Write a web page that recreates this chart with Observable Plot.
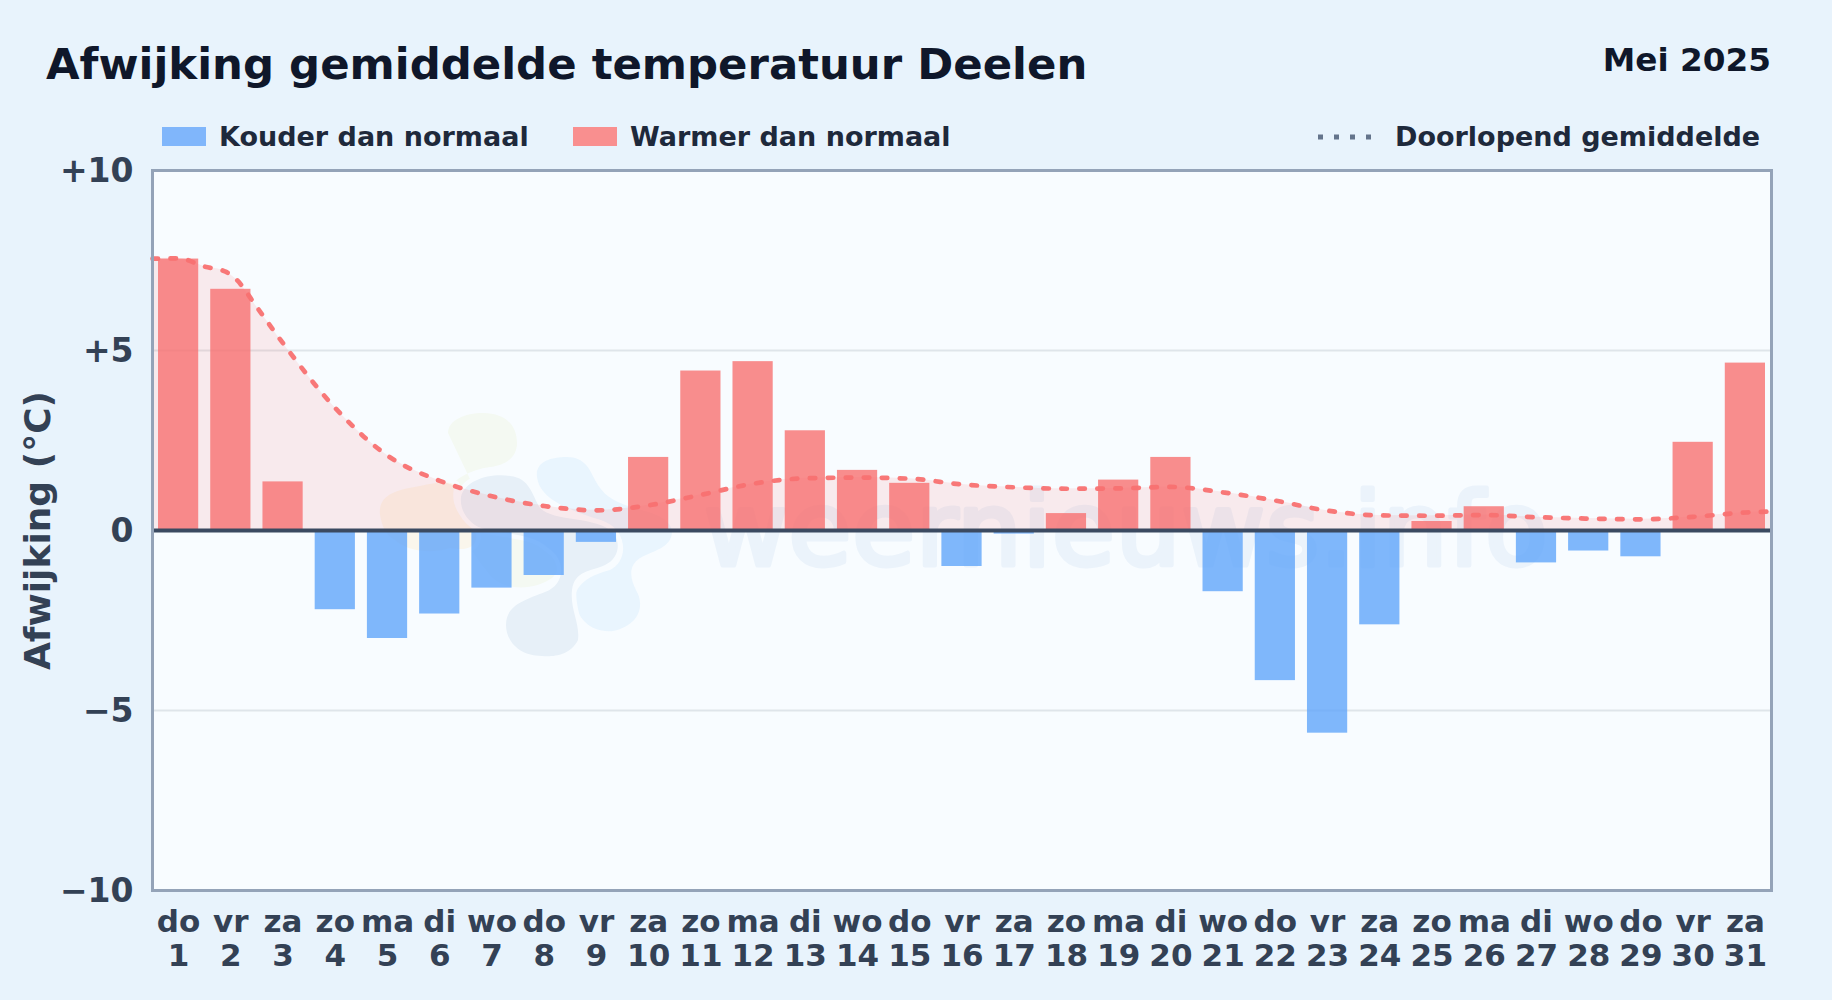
<!DOCTYPE html>
<html lang="nl">
<head>
<meta charset="utf-8">
<script src="https://cdn.jsdelivr.net/npm/d3@7"></script>
<script src="https://cdn.jsdelivr.net/npm/@observablehq/plot@0.6"></script>
<style>
  html, body { margin: 0; padding: 0; width: 1832px; height: 1000px; overflow: hidden; background: #e8f3fc; font-family: "DejaVu Sans", sans-serif; font-weight: 700; }
  .abs { position: absolute; white-space: nowrap; line-height: 1; }
  #title { left: 46px; top: 43px; font-size: 43.4px; color: #0f172a; }
  #period { right: 61px; top: 44px; font-size: 32.7px; color: #0f172a; }
  .leg { top: 123px; font-size: 27px; color: #1e293b; }
  .swatch { position: absolute; top: 127px; width: 44px; height: 19px; }
  #pane { position: absolute; left: 152px; top: 170px; width: 1619px; height: 720px; background: #f8fcff; }
  #pane svg { position: absolute; left: 0; top: 0; }
  #chart { position: absolute; left: 0; top: 150px; }
  #chart svg { background: transparent; display: block; max-width: none; }
</style>
</head>
<body>
<div id="pane">
  <svg width="1619" height="720" viewBox="152 170 1619 720">
    <g stroke="#f8fcff" stroke-width="9" stroke-linejoin="round" paint-order="stroke">
      <path fill="#f4f9f2" d="M448,433 C448,420 465,413 483,413 C505,413 517,425 517,443 C517,458 505,465 490,467 C470,470 455,478 448,490 C450,520 470,550 490,575 C505,592 535,590 552,578 C566,565 560,540 540,520 L480,500 Z"/>
      <path fill="#faf6ec" d="M380,515 C378,495 395,490 420,486 C435,483 447,480 455,485 C450,500 455,515 475,530 C480,545 470,552 450,548 C430,555 405,550 395,540 C385,535 382,525 380,515 Z"/>
      <path fill="#e9f5fe" d="M537,477 C535,462 550,457 567,457 C585,457 590,470 595,480 C603,495 612,500 625,505 C645,512 672,515 672,533 C670,548 655,550 640,558 C628,566 630,578 636,590 C645,605 640,625 613,631 C590,633 578,618 575,603 C573,585 590,575 610,570 C628,562 630,530 600,520 C570,510 540,500 537,477 Z"/>
      <path fill="#e7f0f8" d="M461,497 C465,480 490,473 510,476 C530,478 532,495 540,508 C555,522 590,516 610,530 C622,540 620,558 605,565 C590,572 575,570 572,590 C570,610 580,622 578,640 C570,656 552,657 542,656 C518,656 506,640 506,625 C506,605 525,600 545,592 C565,585 567,560 548,548 C530,530 490,535 475,525 C465,518 460,508 461,497 Z"/>
    </g>
    <text x="704" y="565" font-family="DejaVu Sans" font-weight="400" font-size="102" letter-spacing="1" fill="#ebf3fb" stroke="#ebf3fb" stroke-width="5" stroke-linejoin="round">weernieuws.info</text>
  </svg>
</div>

<div id="title" class="abs">Afwijking gemiddelde temperatuur Deelen</div>
<div id="period" class="abs">Mei 2025</div>

<div class="swatch" style="left:162px;background:#80b6fb"></div>
<div class="abs leg" style="left:219px">Kouder dan normaal</div>
<div class="swatch" style="left:573px;background:#f98f8f"></div>
<div class="abs leg" style="left:630px">Warmer dan normaal</div>
<svg class="abs" style="left:1318px;top:132px" width="60" height="10"><line x1="0" y1="5" x2="60" y2="5" stroke="#64748b" stroke-width="5" stroke-dasharray="5 11"/></svg>
<div class="abs leg" style="left:1395px">Doorlopend gemiddelde</div>

<div id="chart"></div>

<script>
const days = d3.range(1, 32);
const weekdays = ["do","vr","za","zo","ma","di","wo","do","vr","za","zo","ma","di","wo","do","vr","za","zo","ma","di","wo","do","vr","za","zo","ma","di","wo","do","vr","za"];
const deviations = [7.54,6.70,1.35,-2.20,-3.00,-2.32,-1.60,-1.25,-0.33,2.03,4.43,4.69,2.77,1.67,1.31,-1.00,-0.10,0.47,1.40,2.03,-1.70,-4.17,-5.63,-2.62,0.25,0.66,-0.90,-0.57,-0.73,2.45,4.65];
const averageDays = [0.5,1,1.5,1.9,2.1,2.5,...days.slice(2),31.5];
const averageValues = [7.55,7.56,7.33,7.19,6.98,6.20,5.20,3.40,2.08,1.38,0.95,0.68,0.56,0.70,0.99,1.30,1.45,1.47,1.44,1.28,1.20,1.16,1.17,1.21,1.06,0.83,0.55,0.42,0.41,0.43,0.37,0.33,0.31,0.38,0.50,0.53];
const yTicks = [10,5,0,-5,-10];
const yTickLabels = ["+10","+5","0","\u22125","\u221210"];
const gridValues = [5,-5];
const barHalfWidth = 0.385;

const bars = days.map((d,i)=>({day:d, value:deviations[i]}));
const avg = averageDays.map((d,i)=>({day:d, value:averageValues[i]}));

const chart = Plot.plot({
  width: 1832, height: 850,
  marginTop: 20, marginBottom: 110, marginLeft: 152, marginRight: 61,
  x: {domain:[0.5,31.5]},
  y: {domain:[-10,10]},
  style: {fontFamily:'"DejaVu Sans", sans-serif', fontWeight:700, background:"transparent", overflow:"visible"},
  marks: [
    Plot.ruleY(gridValues, {stroke:"#dfe5ea", strokeWidth:2}),
    Plot.areaY(avg, {x:"day", y1:0, y2:"value", curve:"monotone-x", fill:"#f87171", fillOpacity:0.13}),
    Plot.rectY(bars.filter(d=>d.value<0), {x1:d=>d.day-barHalfWidth, x2:d=>d.day+barHalfWidth, y1:0, y2:"value", fill:"#60a5fa", fillOpacity:0.8}),
    Plot.rectY(bars.filter(d=>d.value>=0), {x1:d=>d.day-barHalfWidth, x2:d=>d.day+barHalfWidth, y1:0, y2:"value", fill:"#f87171", fillOpacity:0.8}),
    Plot.line(avg, {x:"day", y:"value", curve:"monotone-x", stroke:"#f87171", strokeOpacity:0.95, strokeWidth:4.7, strokeDasharray:"5.5 12.5", strokeLinecap:"round"}),
    Plot.ruleY([0], {stroke:"#3b4a61", strokeWidth:4}),
    Plot.frame({stroke:"#94a3b8", strokeWidth:3}),
    Plot.axisY({ticks:yTicks, tickFormat:d=>yTickLabels[yTicks.indexOf(d)], tickSize:0, tickPadding:19, fontSize:33, dy:1, color:"#334155", label:null}),
    Plot.axisX({ticks:days, tickFormat:d=>weekdays[d-1]+"\n"+d, tickSize:0, tickPadding:17, fontSize:31, lineHeight:1.11, color:"#334155", label:null}),
    Plot.text(["Afwijking (\u00b0C)"], {frameAnchor:"left", textAnchor:"middle", rotate:-90, dx:-114, fontSize:36, fill:"#334155"})
  ]
});
document.getElementById("chart").append(chart);
</script>
</body>
</html>
